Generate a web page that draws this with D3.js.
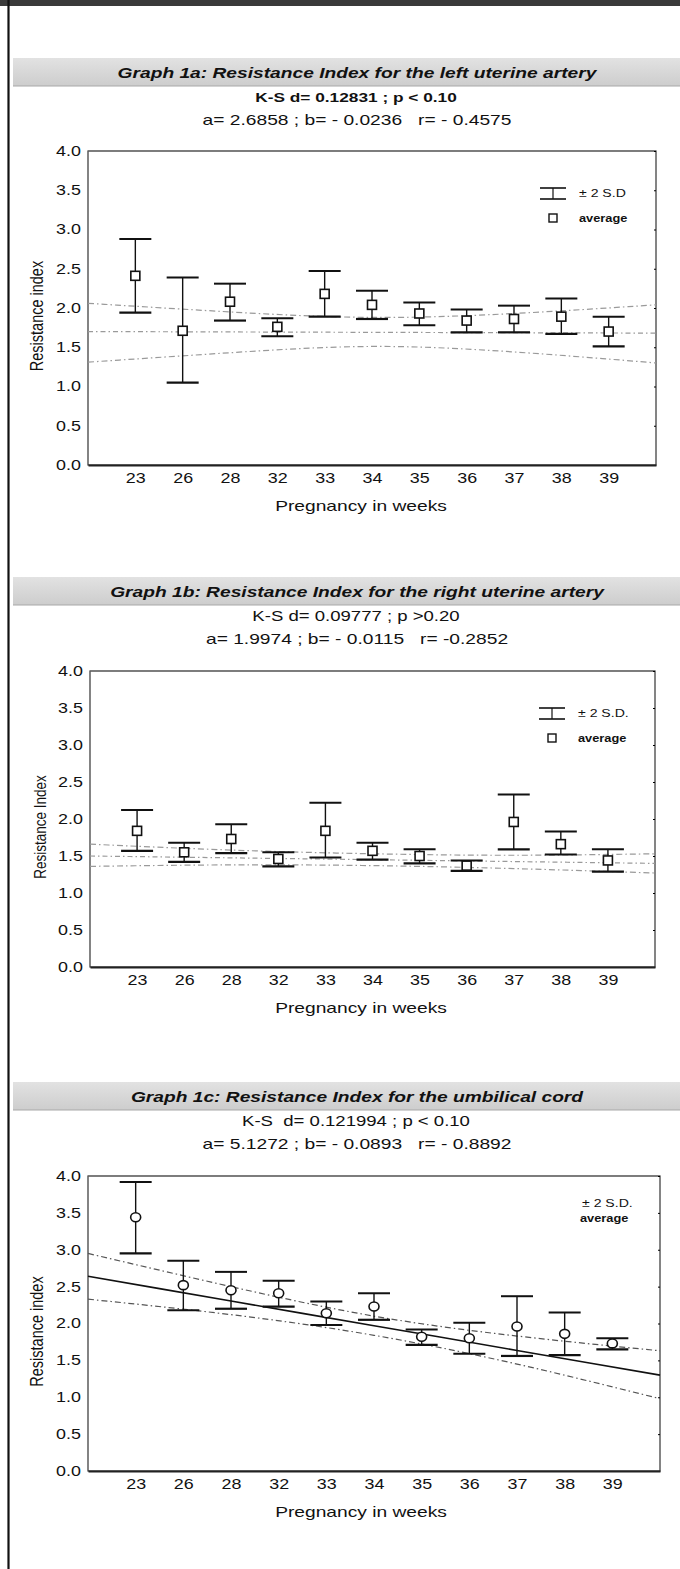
<!DOCTYPE html>
<html>
<head>
<meta charset="utf-8">
<script src="https://cdn.jsdelivr.net/npm/d3@7"></script>
<style>
  body { margin: 0; background: #fff; }
  text { font-family: "Liberation Sans", Arial, sans-serif; fill: #111; white-space: pre; }
</style>
</head>
<body>
<div id="chart"></div>
<script>
// data
var weeks = ["23", "26", "28", "32", "33", "34", "35", "36", "37", "38", "39"];

var leftMean = [2.41, 1.71, 2.08, 1.76, 2.18, 2.04, 1.93, 1.84, 1.86, 1.89, 1.70];
var leftHi   = [2.88, 2.39, 2.31, 1.87, 2.47, 2.22, 2.07, 1.98, 2.03, 2.12, 1.89];
var leftLo   = [1.94, 1.05, 1.84, 1.64, 1.89, 1.86, 1.78, 1.69, 1.69, 1.67, 1.51];

var rightMean = [1.84, 1.55, 1.73, 1.46, 1.84, 1.57, 1.50, 1.37, 1.96, 1.66, 1.44];
var rightHi   = [2.12, 1.68, 1.93, 1.55, 2.22, 1.68, 1.59, 1.44, 2.33, 1.83, 1.59];
var rightLo   = [1.57, 1.42, 1.54, 1.36, 1.48, 1.45, 1.40, 1.30, 1.59, 1.52, 1.29];

var cordMean = [3.44, 2.52, 2.45, 2.41, 2.14, 2.23, 1.82, 1.80, 1.96, 1.86, 1.73];
var cordHi   = [3.92, 2.85, 2.70, 2.58, 2.30, 2.41, 1.92, 2.01, 2.37, 2.15, 1.80];
var cordLo   = [2.95, 2.18, 2.20, 2.23, 1.98, 2.05, 1.71, 1.59, 1.56, 1.57, 1.65];

// regression line + band, read at these category positions (-1 and 11 = plot edges)
var fitKnots = [-1, 2, 5, 8, 11];
var leftFit   = [1.70, 1.695, 1.69, 1.685, 1.68];
var leftFitHi = [2.06, 1.95, 1.88, 1.93, 2.04];
var leftFitLo = [1.31, 1.43, 1.51, 1.44, 1.30];
var rightFit   = [1.50, 1.475, 1.45, 1.425, 1.40];
var rightFitHi = [1.66, 1.58, 1.53, 1.51, 1.53];
var rightFitLo = [1.36, 1.38, 1.37, 1.33, 1.27];
var cordFit   = [2.64, 2.305, 1.97, 1.635, 1.30];
var cordFitHi = [2.95, 2.50, 2.10, 1.83, 1.63];
var cordFitLo = [2.33, 2.12, 1.84, 1.45, 0.98];

var yTicks = [0, 0.5, 1, 1.5, 2, 2.5, 3, 3.5, 4];

var titles = [
  "Graph 1a: Resistance Index for the left uterine artery",
  "Graph 1b: Resistance Index for the right uterine artery",
  "Graph 1c: Resistance Index for the umbilical cord"
];
var ksLines = [
  "K-S d= 0.12831 ; p < 0.10",
  "K-S d= 0.09777 ; p >0.20",
  "K-S  d= 0.121994 ; p < 0.10"
];
var coefLines = [
  "a= 2.6858 ; b= - 0.0236   r= - 0.4575",
  "a= 1.9974 ; b= - 0.0115   r= -0.2852",
  "a= 5.1272 ; b= - 0.0893   r= - 0.8892"
];
var yLabels = ["Resistance index", "Resistance Index", "Resistance index"];
var sdLabels = ["\u00b1 2 S.D", "\u00b1 2 S.D.", "\u00b1 2 S.D."];

var W = 680, H = 1569;
var SX = 1.28; // the scan is stretched sideways

var svg = d3.select("#chart").append("svg")
    .attr("width", W)
    .attr("height", H);

svg.append("rect").attr("width", W).attr("height", H).attr("fill", "#fff");

// page frame
svg.append("rect")
    .attr("x", 0).attr("y", 0).attr("width", W).attr("height", 6)
    .attr("fill", "#3a3a3a");
svg.append("line")
    .attr("x1", 8.5).attr("x2", 8.5).attr("y1", 0).attr("y2", H)
    .attr("stroke", "#111").attr("stroke-width", 2.2);

var grad = svg.append("defs").append("linearGradient")
    .attr("id", "band").attr("x1", 0).attr("x2", 0).attr("y1", 0).attr("y2", 1);
grad.append("stop").attr("offset", "0%").attr("stop-color", "#e2e2e2");
grad.append("stop").attr("offset", "100%").attr("stop-color", "#cdcdcd");

function stext(g, x, y, str, size) {
  return g.append("text")
      .attr("transform", "translate(" + x + "," + y + ") scale(" + SX + ",1)")
      .attr("font-size", size)
      .text(str);
}

var panels = [
  {band: 58, top: 151, bottom: 465, left: 88, right: 656, i: 0, ksBold: true, ylx: 43, yls: 14.5,
   mean: leftMean, hi: leftHi, lo: leftLo, fit: leftFit, fitHi: leftFitHi, fitLo: leftFitLo,
   marker: "square", bandColor: "#9a9a9a", fitColor: "#9a9a9a", legendSymbols: true},
  {band: 577, top: 671, bottom: 967, left: 90, right: 655, i: 1, ksBold: false, ylx: 46, yls: 13.5,
   mean: rightMean, hi: rightHi, lo: rightLo, fit: rightFit, fitHi: rightFitHi, fitLo: rightFitLo,
   marker: "square", bandColor: "#9a9a9a", fitColor: "#9a9a9a", legendSymbols: true},
  {band: 1082, top: 1176, bottom: 1471, left: 88, right: 660, i: 2, ksBold: false, ylx: 43, yls: 14.5,
   mean: cordMean, hi: cordHi, lo: cordLo, fit: cordFit, fitHi: cordFitHi, fitLo: cordFitLo,
   marker: "circle", bandColor: "#555", fitColor: "#111", legendSymbols: false}
];

panels.forEach(function(p) {
  var g = svg.append("g");

  // title band
  g.append("rect")
      .attr("x", 13).attr("y", p.band).attr("width", W - 13).attr("height", 28)
      .attr("fill", "url(#band)");
  g.append("line")
      .attr("x1", 13).attr("x2", W).attr("y1", p.band + 28).attr("y2", p.band + 28)
      .attr("stroke", "#a8a8a8").attr("stroke-width", 1);

  stext(g, 357, p.band + 20, titles[p.i], 15)
      .attr("text-anchor", "middle")
      .attr("font-weight", "bold")
      .attr("font-style", "italic");
  stext(g, 356, p.band + 44, ksLines[p.i], p.ksBold ? 13.5 : 14.5)
      .attr("text-anchor", "middle")
      .attr("font-weight", p.ksBold ? "bold" : "normal");
  stext(g, 357, p.band + 67, coefLines[p.i], 15)
      .attr("text-anchor", "middle");

  // scales
  var x = d3.scalePoint().domain(weeks).range([p.left, p.right]).padding(1);
  var xi = d3.scaleLinear().domain([-1, 11]).range([p.left, p.right]);
  var y = d3.scaleLinear().domain([0, 4]).range([p.bottom, p.top]);

  // plot frame
  g.append("rect")
      .attr("x", p.left).attr("y", p.top)
      .attr("width", p.right - p.left).attr("height", p.bottom - p.top)
      .attr("fill", "none").attr("stroke", "#333").attr("stroke-width", 1.2);
  g.append("line")
      .attr("x1", p.left).attr("x2", p.right).attr("y1", p.top).attr("y2", p.top)
      .attr("stroke", "#777").attr("stroke-width", 1.2);

  // y axis
  var yAxis = g.append("g")
      .attr("transform", "translate(" + p.left + ",0)")
      .call(d3.axisLeft(y).tickValues(yTicks).tickFormat(d3.format(".1f")).tickSize(0).tickPadding(0));
  yAxis.select(".domain").remove();
  yAxis.selectAll("text")
      .attr("x", -7 / SX)
      .attr("transform", "scale(" + SX + ",1)")
      .attr("font-size", 14)
      .attr("font-family", "Liberation Sans, Arial, sans-serif");

  // small ticks on the right edge
  g.append("g")
      .attr("transform", "translate(" + p.right + ",0)")
      .call(d3.axisLeft(y).tickValues(yTicks).tickFormat("").tickSize(2))
      .select(".domain").remove();

  // x axis
  var xAxis = g.append("g")
      .attr("transform", "translate(0," + p.bottom + ")")
      .call(d3.axisBottom(x).tickSize(0).tickPadding(8));
  xAxis.select(".domain")
      .attr("stroke", "#222").attr("stroke-width", 2);
  xAxis.selectAll("text")
      .attr("transform", "scale(" + SX + ",1)")
      .attr("font-size", 14)
      .attr("font-family", "Liberation Sans, Arial, sans-serif");

  stext(g, 361, p.bottom + 46, "Pregnancy in weeks", 15)
      .attr("text-anchor", "middle");

  var cy = (p.top + p.bottom) / 2 + 8;
  g.append("text")
      .attr("transform", "translate(" + p.ylx + "," + cy + ") scale(" + SX + ",1) rotate(-90)")
      .attr("text-anchor", "middle")
      .attr("font-size", p.yls)
      .text(yLabels[p.i]);

  // regression line and confidence band
  var fitLine = d3.line()
      .x(function(d, k) { return xi(fitKnots[k]); })
      .y(function(d) { return y(d); })
      .curve(d3.curveNatural);

  g.append("path").datum(p.fitHi)
      .attr("d", fitLine)
      .attr("fill", "none").attr("stroke", p.bandColor)
      .attr("stroke-width", 1.2).attr("stroke-dasharray", "6,3,1.5,3");
  g.append("path").datum(p.fitLo)
      .attr("d", fitLine)
      .attr("fill", "none").attr("stroke", p.bandColor)
      .attr("stroke-width", 1.2).attr("stroke-dasharray", "6,3,1.5,3");
  g.append("path").datum(p.fit)
      .attr("d", fitLine)
      .attr("fill", "none").attr("stroke", p.fitColor)
      .attr("stroke-width", p.marker == "circle" ? 1.6 : 1.2)
      .attr("stroke-dasharray", p.marker == "circle" ? null : "5,3,1.5,3");

  // whiskers
  var bars = g.selectAll(".bar")
      .data(weeks)
      .enter().append("g")
      .attr("class", "bar");

  bars.append("line")
      .attr("x1", function(d) { return x(d); })
      .attr("x2", function(d) { return x(d); })
      .attr("y1", function(d, k) { return y(p.hi[k]); })
      .attr("y2", function(d, k) { return y(p.lo[k]); })
      .attr("stroke", "#111").attr("stroke-width", 1.4);
  bars.append("line")
      .attr("x1", function(d) { return x(d) - 16; })
      .attr("x2", function(d) { return x(d) + 16; })
      .attr("y1", function(d, k) { return y(p.hi[k]); })
      .attr("y2", function(d, k) { return y(p.hi[k]); })
      .attr("stroke", "#111").attr("stroke-width", 2);
  bars.append("line")
      .attr("x1", function(d) { return x(d) - 16; })
      .attr("x2", function(d) { return x(d) + 16; })
      .attr("y1", function(d, k) { return y(p.lo[k]); })
      .attr("y2", function(d, k) { return y(p.lo[k]); })
      .attr("stroke", "#111").attr("stroke-width", 2.2);

  if (p.marker == "square") {
    bars.append("rect")
        .attr("x", function(d) { return x(d) - 4.5; })
        .attr("y", function(d, k) { return y(p.mean[k]) - 4.5; })
        .attr("width", 9).attr("height", 9)
        .attr("fill", "#fff").attr("stroke", "#111").attr("stroke-width", 1.6);
  } else {
    bars.append("ellipse")
        .attr("cx", function(d) { return x(d); })
        .attr("cy", function(d, k) { return y(p.mean[k]); })
        .attr("rx", 5).attr("ry", 4.5)
        .attr("fill", "#fff").attr("stroke", "#111").attr("stroke-width", 1.6);
  }

  // legend
  var lx = p.right - 103;
  if (p.legendSymbols) {
    var lg = g.append("g");
    lg.append("line").attr("x1", lx - 13).attr("x2", lx + 13)
        .attr("y1", p.top + 37).attr("y2", p.top + 37)
        .attr("stroke", "#111").attr("stroke-width", 1.6);
    lg.append("line").attr("x1", lx - 13).attr("x2", lx + 13)
        .attr("y1", p.top + 48).attr("y2", p.top + 48)
        .attr("stroke", "#111").attr("stroke-width", 1.6);
    lg.append("line").attr("x1", lx).attr("x2", lx)
        .attr("y1", p.top + 37).attr("y2", p.top + 48)
        .attr("stroke", "#111").attr("stroke-width", 1.2);
    lg.append("rect")
        .attr("x", lx - 4).attr("y", p.top + 63).attr("width", 8).attr("height", 8)
        .attr("fill", "#fff").attr("stroke", "#111").attr("stroke-width", 1.4);
    stext(lg, p.right - 77, p.top + 46, sdLabels[p.i], 11);
    stext(lg, p.right - 77, p.top + 71, "average", 10).attr("font-weight", "bold");
  } else {
    stext(g, p.right - 78, p.top + 31, sdLabels[p.i], 11);
    stext(g, p.right - 80, p.top + 46, "average", 10).attr("font-weight", "bold");
  }
});
</script>
</body>
</html>
